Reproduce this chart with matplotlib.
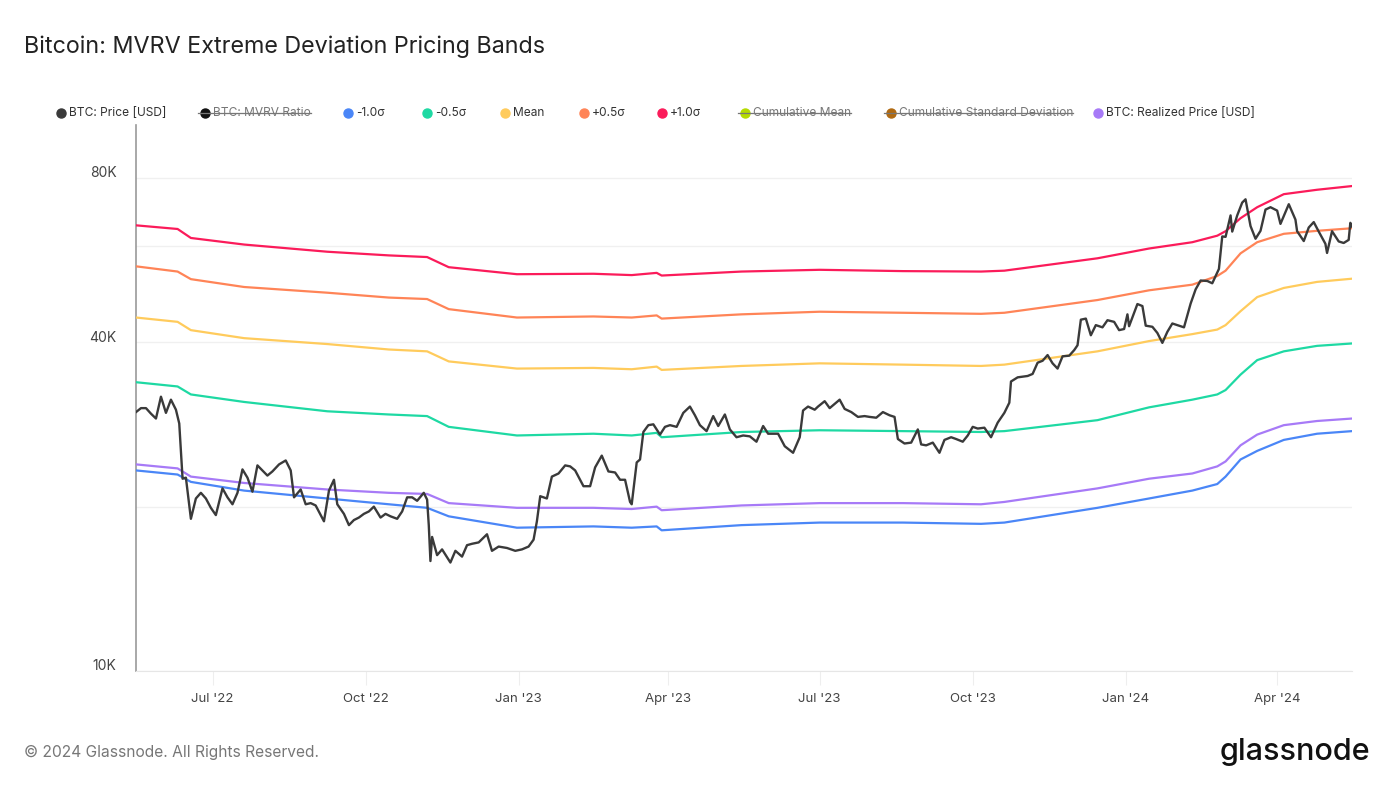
import pandas as pd
import matplotlib.pyplot as plt
import matplotlib.dates as mdates
import matplotlib.transforms as mtransforms
from matplotlib.lines import Line2D
from matplotlib.ticker import FixedLocator, FuncFormatter

plt.rcParams['font.family'] = ['Inter', 'DejaVu Sans']

# BTC price (USD thousands)
price_dates = [
    "2022-05-16", "2022-05-19", "2022-05-22", "2022-05-25", "2022-05-28", "2022-05-31",
    "2022-06-03", "2022-06-06", "2022-06-09", "2022-06-11", "2022-06-13", "2022-06-15",
    "2022-06-18", "2022-06-21", "2022-06-24", "2022-06-27", "2022-06-30",
    "2022-07-03", "2022-07-07", "2022-07-10", "2022-07-13", "2022-07-16", "2022-07-19",
    "2022-07-22", "2022-07-25", "2022-07-28", "2022-07-31",
    "2022-08-03", "2022-08-06", "2022-08-10", "2022-08-14", "2022-08-17", "2022-08-19",
    "2022-08-23", "2022-08-26", "2022-08-29",
    "2022-09-01", "2022-09-06", "2022-09-09", "2022-09-12", "2022-09-14", "2022-09-18",
    "2022-09-21", "2022-09-24", "2022-09-27", "2022-09-30",
    "2022-10-03", "2022-10-06", "2022-10-10", "2022-10-13", "2022-10-16", "2022-10-20",
    "2022-10-23", "2022-10-26", "2022-10-29",
    "2022-11-01", "2022-11-05", "2022-11-07", "2022-11-08", "2022-11-09", "2022-11-10",
    "2022-11-13", "2022-11-16", "2022-11-21", "2022-11-24", "2022-11-28",
    "2022-12-01", "2022-12-04", "2022-12-08", "2022-12-13", "2022-12-16", "2022-12-20",
    "2022-12-25", "2022-12-30",
    "2023-01-03", "2023-01-07", "2023-01-10", "2023-01-12", "2023-01-14", "2023-01-18",
    "2023-01-21", "2023-01-25", "2023-01-29",
    "2023-02-01", "2023-02-04", "2023-02-09", "2023-02-13", "2023-02-16", "2023-02-20",
    "2023-02-24", "2023-02-28",
    "2023-03-03", "2023-03-06", "2023-03-09", "2023-03-10", "2023-03-13", "2023-03-15",
    "2023-03-17", "2023-03-20", "2023-03-23", "2023-03-27", "2023-03-30",
    "2023-04-02", "2023-04-06", "2023-04-10", "2023-04-14", "2023-04-17", "2023-04-20",
    "2023-04-24", "2023-04-28",
    "2023-05-01", "2023-05-05", "2023-05-08", "2023-05-12", "2023-05-16", "2023-05-20",
    "2023-05-24", "2023-05-28", "2023-05-31",
    "2023-06-03", "2023-06-06", "2023-06-10", "2023-06-15", "2023-06-19", "2023-06-21",
    "2023-06-24", "2023-06-28", "2023-06-30",
    "2023-07-04", "2023-07-07", "2023-07-13", "2023-07-16", "2023-07-20", "2023-07-24",
    "2023-07-28", "2023-07-31",
    "2023-08-04", "2023-08-08", "2023-08-12", "2023-08-15", "2023-08-17", "2023-08-21",
    "2023-08-25", "2023-08-29", "2023-08-31",
    "2023-09-03", "2023-09-07", "2023-09-11", "2023-09-14", "2023-09-18", "2023-09-21",
    "2023-09-25", "2023-09-28",
    "2023-10-01", "2023-10-04", "2023-10-08", "2023-10-12", "2023-10-16", "2023-10-20",
    "2023-10-23", "2023-10-24", "2023-10-28", "2023-10-31",
    "2023-11-03", "2023-11-06", "2023-11-09", "2023-11-12", "2023-11-15", "2023-11-18",
    "2023-11-21", "2023-11-24", "2023-11-28",
    "2023-12-01", "2023-12-03", "2023-12-05", "2023-12-08", "2023-12-11", "2023-12-14",
    "2023-12-18", "2023-12-21", "2023-12-25", "2023-12-28", "2023-12-31",
    "2024-01-02", "2024-01-03", "2024-01-08", "2024-01-11", "2024-01-13", "2024-01-17",
    "2024-01-20", "2024-01-23", "2024-01-26", "2024-01-29",
    "2024-02-01", "2024-02-05", "2024-02-09", "2024-02-12", "2024-02-15", "2024-02-19",
    "2024-02-22", "2024-02-26", "2024-02-28", "2024-03-01",
    "2024-03-04", "2024-03-05", "2024-03-08", "2024-03-11", "2024-03-13", "2024-03-16",
    "2024-03-19", "2024-03-22", "2024-03-25", "2024-03-28",
    "2024-04-01", "2024-04-03", "2024-04-08", "2024-04-12", "2024-04-13", "2024-04-17",
    "2024-04-20", "2024-04-23", "2024-04-26", "2024-04-30",
    "2024-05-01", "2024-05-04", "2024-05-08", "2024-05-11", "2024-05-14", "2024-05-15",
    "2024-05-16",
]
price = [
    29.8, 30.3, 30.3, 29.6, 29.0, 31.8,
    29.7, 31.4, 30.1, 28.4, 22.5, 22.6,
    19.0, 20.7, 21.2, 20.7, 19.9,
    19.3, 21.6, 20.8, 20.2, 21.2, 23.4,
    22.6, 21.3, 23.8, 23.3,
    22.8, 23.2, 23.9, 24.3, 23.3, 20.8,
    21.5, 20.2, 20.3,
    20.1, 18.8, 21.4, 22.4, 20.2, 19.4,
    18.5, 18.9, 19.1, 19.4,
    19.6, 20.0, 19.1, 19.4, 19.2, 19.0,
    19.6, 20.8, 20.8,
    20.5, 21.2, 20.6, 18.5, 15.9, 17.6,
    16.3, 16.7, 15.8, 16.6, 16.2,
    17.0, 17.1, 17.2, 17.8, 16.6, 16.9,
    16.8, 16.6,
    16.7, 16.9, 17.4, 18.8, 20.9, 20.7,
    22.7, 23.0, 23.8,
    23.7, 23.3, 21.8, 21.8, 23.6, 24.8,
    23.2, 23.1,
    22.4, 22.4, 20.4, 20.2, 24.1, 24.4,
    27.4, 28.2, 28.3, 27.1, 28.0,
    28.2, 28.0, 29.7, 30.5, 29.4, 28.2,
    27.5, 29.3,
    28.1, 29.5, 27.7, 26.8, 27.0, 26.9,
    26.3, 28.1, 27.2,
    27.2, 27.2, 25.8, 25.1, 26.8, 30.0,
    30.5, 30.1, 30.5,
    31.2, 30.3, 31.4, 30.2, 29.8, 29.2,
    29.3, 29.2,
    29.1, 29.8, 29.4, 29.2, 26.6, 26.1,
    26.2, 27.7, 26.0,
    25.9, 26.2, 25.1, 26.5, 26.8, 26.6,
    26.3, 27.0,
    28.0, 27.8, 27.9, 26.8, 28.5, 29.7,
    31.0, 33.9, 34.5, 34.6,
    34.7, 35.0, 36.7, 37.0, 37.9, 36.6,
    35.8, 37.7, 37.8,
    38.7, 39.5, 44.0, 44.2, 41.2, 43.0,
    42.6, 43.9, 43.6, 42.1, 42.3,
    45.0, 42.8, 47.0, 46.6, 42.9, 42.7,
    41.6, 39.9, 41.8, 43.3,
    43.0, 42.6, 47.1, 50.0, 51.9, 51.8,
    51.3, 54.5, 62.5, 62.4,
    68.3, 63.8, 68.3, 72.1, 73.1, 65.3,
    61.9, 64.0, 70.0, 70.7,
    69.7, 65.9, 71.6, 67.1, 63.9, 61.3,
    64.9, 66.4, 63.8, 60.6,
    58.3, 63.9, 61.2, 60.8, 61.6, 66.2,
    65.2,
]

# Pricing bands (USD thousands)
band_dates = [
    "2022-05-16", "2022-06-10", "2022-06-18", "2022-07-20", "2022-09-08", "2022-10-15",
    "2022-11-07", "2022-11-20", "2022-12-31", "2023-02-15", "2023-03-10", "2023-03-25",
    "2023-03-28", "2023-05-15", "2023-07-01", "2023-08-20", "2023-10-06", "2023-10-20",
    "2023-12-15", "2024-01-15", "2024-02-10", "2024-02-25", "2024-03-01", "2024-03-10",
    "2024-03-20", "2024-04-05", "2024-04-25", "2024-05-16",
]
plus_1sd = [65.5, 64.5, 62.1, 60.4, 58.6, 57.7, 57.3, 54.9, 53.3, 53.4, 53.1, 53.6,
            53.0, 53.9, 54.3, 54.0, 53.9, 54.1, 57.0, 59.4, 61.0, 62.7, 63.9, 67.5,
            70.7, 74.7, 76.1, 77.3]
plus_05sd = [55.1, 53.9, 52.2, 50.5, 49.3, 48.3, 48.0, 46.0, 44.4, 44.6, 44.4, 44.8,
             44.2, 45.0, 45.5, 45.3, 45.1, 45.3, 47.8, 49.8, 51.0, 52.9, 54.1, 58.2,
             61.0, 63.2, 64.0, 64.7]
mean = [44.4, 43.6, 42.1, 40.7, 39.7, 38.8, 38.5, 36.9, 35.8, 35.9, 35.7, 36.1,
        35.6, 36.2, 36.6, 36.4, 36.2, 36.4, 38.5, 40.2, 41.4, 42.2, 43.0, 45.6,
        48.4, 50.3, 51.6, 52.3]
minus_05sd = [33.8, 33.2, 32.1, 31.1, 29.9, 29.5, 29.3, 28.0, 27.0, 27.2, 27.0, 27.3,
              26.8, 27.4, 27.6, 27.5, 27.4, 27.5, 28.8, 30.4, 31.4, 32.1, 32.7, 34.9,
              37.1, 38.5, 39.4, 39.8]
minus_1sd = [23.3, 22.9, 22.2, 21.4, 20.7, 20.2, 19.9, 19.2, 18.3, 18.4, 18.3, 18.4,
             18.1, 18.5, 18.7, 18.7, 18.6, 18.7, 19.9, 20.7, 21.4, 22.0, 22.7, 24.4,
             25.3, 26.5, 27.2, 27.5]
realized = [23.9, 23.5, 22.7, 22.1, 21.5, 21.2, 21.1, 20.3, 19.9, 19.9, 19.8, 20.0,
            19.7, 20.1, 20.3, 20.3, 20.2, 20.4, 21.6, 22.5, 23.0, 23.7, 24.2, 25.9,
            27.1, 28.2, 28.7, 29.0]

legend_items = [
    ("BTC: Price [USD]", "#3a3a3a", False),
    ("BTC: MVRV Ratio", "#111111", True),
    ("-1.0σ", "#4a86f7", False),
    ("-0.5σ", "#1ed9a3", False),
    ("Mean", "#ffcb5c", False),
    ("+0.5σ", "#ff8457", False),
    ("+1.0σ", "#fb1b5a", False),
    ("Cumulative Mean", "#b5db00", True),
    ("Cumulative Standard Deviation", "#b06a12", True),
    ("BTC: Realized Price [USD]", "#a77af7", False),
]
legend_x = [61, 205, 348, 427, 505, 584, 662, 745, 891, 1098]

pdates = pd.to_datetime(price_dates)
bdates = pd.to_datetime(band_dates)
K = 1000

W, H = 1398, 786
fig = plt.figure(figsize=(W / 100, H / 100), dpi=100)
ax = fig.add_axes([136 / W, 1 - 671 / H, (1352 - 136) / W, (671 - 125) / H])

ax.plot(bdates, [v * K for v in minus_1sd], color="#4a86f7", lw=1.6, zorder=3)
ax.plot(bdates, [v * K for v in realized], color="#a77af7", lw=1.6, zorder=3)
ax.plot(bdates, [v * K for v in minus_05sd], color="#1ed9a3", lw=1.6, zorder=3)
ax.plot(bdates, [v * K for v in mean], color="#ffcb5c", lw=1.6, zorder=3)
ax.plot(bdates, [v * K for v in plus_05sd], color="#ff8457", lw=1.6, zorder=3)
ax.plot(bdates, [v * K for v in plus_1sd], color="#fb1b5a", lw=1.6, zorder=3)
ax.plot(pdates, [v * K for v in price], color="#3a3a3a", lw=1.7, zorder=4)

ax.set_yscale("log")
ax.set_ylim(10000, 100000)
ax.set_xlim(pd.Timestamp("2022-05-16"), pd.Timestamp("2024-05-16"))

ax.yaxis.set_major_locator(FixedLocator([10000, 20000, 40000, 60000, 80000]))
ax.yaxis.set_minor_locator(FixedLocator([]))
ax.yaxis.set_major_formatter(FuncFormatter(
    lambda v, p: f"{int(v / 1000)}K" if v in (10000, 40000, 80000) else ""))
ax.grid(axis="y", color="#f0f0f0", lw=1)
ax.set_axisbelow(True)

ax.xaxis.set_major_locator(mdates.MonthLocator(bymonth=[1, 4, 7, 10]))
ax.xaxis.set_major_formatter(mdates.DateFormatter("%b '%y"))

for s in ["top", "right"]:
    ax.spines[s].set_visible(False)
ax.spines["left"].set_color("#999999")
ax.spines["left"].set_linewidth(1.2)
ax.spines["bottom"].set_color("#e6e6e6")
ax.tick_params(axis="y", length=0, pad=14, labelsize=10, labelcolor="#444444")
ax.tick_params(axis="x", length=10, width=0.8, color="#eeeeee", pad=6,
               labelsize=9.5, labelcolor="#444444")

# y labels sit a little above their gridlines
shift = mtransforms.ScaledTranslation(0, 6 / 100, fig.dpi_scale_trans)
for lbl in ax.get_yticklabels():
    lbl.set_transform(lbl.get_transform() + shift)

fig.text(24 / W, 1 - 47 / H, "Bitcoin: MVRV Extreme Deviation Pricing Bands",
         fontsize=16.8, color="#222222", va="center", ha="left")

# legend row
renderer = fig.canvas.get_renderer()
ly = 1 - 113 / H
for (label, color, hidden), mx in zip(legend_items, legend_x):
    fig.add_artist(Line2D([mx / W], [ly], marker="o", markersize=6.5,
                          color=color, transform=fig.transFigure))
    t = fig.text((mx + 8) / W, ly, label, fontsize=8.6, va="center", ha="left",
                 color="#777777" if hidden else "#333333")
    if hidden:
        bb = t.get_window_extent(renderer)
        fig.add_artist(Line2D([(mx - 7) / W, bb.x1 / W], [ly, ly], lw=0.9,
                              color="#777777", transform=fig.transFigure))

fig.text(24 / W, 1 - 752 / H, "© 2024 Glassnode. All Rights Reserved.",
         fontsize=11.2, color="#777777", va="center", ha="left")
fig.text(1370 / W, 1 - 752 / H, "glassnode", fontsize=22, color="#111111",
         va="center", ha="right", fontweight="medium")

fig.savefig("out.png", dpi=100, facecolor="white")
